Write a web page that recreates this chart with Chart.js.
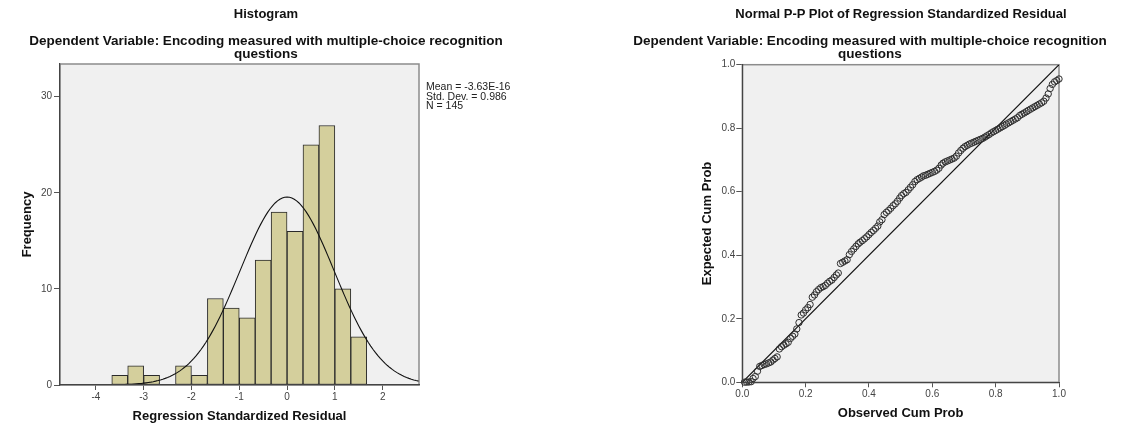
<!DOCTYPE html>
<html>
<head>
<meta charset="utf-8">
<script src="https://cdn.jsdelivr.net/npm/chart.js@4.4.0/dist/chart.umd.min.js"></script>
<style>
  body { margin: 0; background: #fff; }
  #wrap { position: relative; width: 1138px; height: 432px; font-family: 'Liberation Sans', Arial, sans-serif; color: #111; }
  .panel { position: absolute; top: 0; width: 569px; height: 432px; }
  .ttl { position: absolute; transform: translateX(-50%); font-weight: bold; font-size: 13px; line-height: 13px; text-align: center; white-space: nowrap; }
  .sub { font-size: 13.5px; }
  .stats { position: absolute; font-size: 10.5px; line-height: 9.5px; color: #222; white-space: nowrap; }
</style>
</head>
<body>
<div id="wrap">
  <div class="panel" style="left:0"><canvas id="hist" width="569" height="432"></canvas></div>
  <div class="panel" style="left:569px"><canvas id="pp" width="569" height="432"></canvas></div>

  <div class="ttl" style="left:266px; top:7px">Histogram</div>
  <div class="ttl sub" style="left:266px; top:34px">Dependent Variable: Encoding measured with multiple-choice recognition<br>questions</div>
  <div class="stats" style="left:426px; top:82px">Mean = -3.63E-16<br>Std. Dev. = 0.986<br>N = 145</div>

  <div class="ttl" style="left:901px; top:7px">Normal P-P Plot of Regression Standardized Residual</div>
  <div class="ttl sub" style="left:870px; top:34px">Dependent Variable: Encoding measured with multiple-choice recognition<br>questions</div>
</div>
<script>
// histogram of standardized residuals (bin width 1/3)
var binCenters = [-3.5, -3.167, -2.833, -2.5, -2.167, -1.833, -1.5, -1.167,
                  -0.833, -0.5, -0.167, 0.167, 0.5, 0.833, 1.167, 1.5];
var binCounts = [1, 2, 1, 0, 2, 1, 9, 8, 7, 13, 18, 16, 25, 27, 10, 5];
var xTicks = [-4, -3, -2, -1, 0, 1, 2];
var yTicks = [0, 10, 20, 30];

// summary shown next to the histogram
var residMean = -3.63e-16;
var residSd = 0.986;
var residN = 145;
var binWidth = 1 / 3;

// P-P plot: observed vs expected cumulative probability
var observedCum = [
  0.007, 0.014, 0.021, 0.028, 0.034, 0.041, 0.048, 0.055, 0.062, 0.069,
  0.076, 0.083, 0.090, 0.097, 0.103, 0.110, 0.117, 0.124, 0.131, 0.138,
  0.145, 0.152, 0.159, 0.166, 0.172, 0.179, 0.186, 0.193, 0.200, 0.207,
  0.214, 0.221, 0.228, 0.234, 0.241, 0.248, 0.255, 0.262, 0.269, 0.276,
  0.283, 0.290, 0.297, 0.303, 0.310, 0.317, 0.324, 0.331, 0.338, 0.345,
  0.352, 0.359, 0.366, 0.372, 0.379, 0.386, 0.393, 0.400, 0.407, 0.414,
  0.421, 0.428, 0.434, 0.441, 0.448, 0.455, 0.462, 0.469, 0.476, 0.483,
  0.490, 0.497, 0.503, 0.510, 0.517, 0.524, 0.531, 0.538, 0.545, 0.552,
  0.559, 0.566, 0.572, 0.579, 0.586, 0.593, 0.600, 0.607, 0.614, 0.621,
  0.628, 0.634, 0.641, 0.648, 0.655, 0.662, 0.669, 0.676, 0.683, 0.690,
  0.697, 0.703, 0.710, 0.717, 0.724, 0.731, 0.738, 0.745, 0.752, 0.759,
  0.766, 0.772, 0.779, 0.786, 0.793, 0.800, 0.807, 0.814, 0.821, 0.828,
  0.834, 0.841, 0.848, 0.855, 0.862, 0.869, 0.876, 0.883, 0.890, 0.897,
  0.903, 0.910, 0.917, 0.924, 0.931, 0.938, 0.945, 0.952, 0.959, 0.966,
  0.972, 0.979, 0.986, 0.993, 1.000
];
var expectedCum = [
  0.0003, 0.0006, 0.001, 0.002, 0.012, 0.018, 0.035, 0.050, 0.053, 0.056,
  0.058, 0.061, 0.064, 0.070, 0.075, 0.080, 0.105, 0.112, 0.117, 0.121,
  0.126, 0.138, 0.145, 0.152, 0.168, 0.188, 0.212, 0.218, 0.228, 0.235,
  0.245, 0.268, 0.275, 0.285, 0.292, 0.298, 0.301, 0.305, 0.312, 0.318,
  0.322, 0.330, 0.338, 0.344, 0.374, 0.378, 0.382, 0.386, 0.402, 0.412,
  0.420, 0.428, 0.436, 0.441, 0.446, 0.452, 0.458, 0.465, 0.472, 0.478,
  0.485, 0.492, 0.505, 0.512, 0.528, 0.535, 0.541, 0.548, 0.556, 0.562,
  0.570, 0.580, 0.588, 0.594, 0.598, 0.606, 0.614, 0.622, 0.632, 0.638,
  0.642, 0.646, 0.650, 0.652, 0.655, 0.658, 0.661, 0.664, 0.668, 0.674,
  0.684, 0.690, 0.694, 0.697, 0.700, 0.703, 0.706, 0.712, 0.722, 0.730,
  0.737, 0.742, 0.746, 0.750, 0.753, 0.756, 0.759, 0.762, 0.765, 0.768,
  0.772, 0.776, 0.780, 0.785, 0.789, 0.793, 0.797, 0.801, 0.805, 0.809,
  0.813, 0.817, 0.821, 0.825, 0.829, 0.833, 0.840, 0.844, 0.848, 0.852,
  0.856, 0.860, 0.864, 0.868, 0.872, 0.876, 0.880, 0.885, 0.895, 0.908,
  0.925, 0.938, 0.946, 0.950, 0.955
];
var refLine = [0, 1];
var probTicks = [0, 0.2, 0.4, 0.6, 0.8, 1.0];

var tickFont = { family: 'Liberation Sans', size: 10 };
var titleFont = { family: 'Liberation Sans', size: 13, weight: 'bold' };

// grey plot panel with a thin frame
var plotPanel = {
    id: 'plotPanel',
    beforeDraw: function (chart) {
        var a = chart.chartArea, ctx = chart.ctx;
        ctx.save();
        ctx.fillStyle = '#f0f0f0';
        ctx.fillRect(a.left, a.top, a.right - a.left, a.bottom - a.top);
        ctx.restore();
    },
    beforeDatasetsDraw: function (chart) {
        var a = chart.chartArea, ctx = chart.ctx;
        ctx.save();
        ctx.strokeStyle = '#8c8c8c';
        ctx.lineWidth = 1.5;
        ctx.strokeRect(a.left, a.top, a.right - a.left, a.bottom - a.top);
        ctx.restore();
    }
};

function axis(opts) {
    return Object.assign({
        grid: { drawOnChartArea: false, drawTicks: true, tickLength: 6, color: '#555' },
        border: { display: true, color: '#444', width: 1.2, z: 1 },
        ticks: { font: tickFont, color: '#444', padding: 2 }
    }, opts);
}

// normal curve scaled to counts per bin
var curvePoints = [];
for (var x = -4.75; x <= 2.77; x += 0.05) {
    var z = (x - residMean) / residSd;
    var dens = Math.exp(-0.5 * z * z) / (residSd * Math.sqrt(2 * Math.PI));
    curvePoints.push({ x: x, y: residN * binWidth * dens });
}

var histChart = new Chart(document.getElementById('hist'), {
    type: 'bar',
    data: {
        datasets: [
            {
                type: 'line',
                data: curvePoints,
                borderColor: '#111',
                borderWidth: 1.1,
                pointRadius: 0,
                tension: 0,
                order: 0
            },
            {
                type: 'bar',
                data: binCenters.map(function (c, i) { return { x: c, y: binCounts[i] }; }),
                backgroundColor: '#d4cf9c',
                borderColor: '#2a2a2a',
                borderWidth: 1,
                borderSkipped: false,
                barPercentage: 1,
                categoryPercentage: 1,
                order: 1
            }
        ]
    },
    options: {
        responsive: false,
        animation: false,
        layout: { padding: { top: 64, left: 20, right: 150, bottom: 7.7 } },
        plugins: { legend: { display: false }, tooltip: { enabled: false } },
        scales: {
            x: axis({
                type: 'linear',
                min: -4.75,
                max: 2.76,
                offset: false,
                grid: { drawOnChartArea: false, drawTicks: true, tickLength: 5, color: '#555', offset: false },
                ticks: { font: tickFont, color: '#444', padding: 1, stepSize: 1, includeBounds: false },
                afterBuildTicks: function (s) { s.ticks = xTicks.map(function (v) { return { value: v }; }); },
                title: { display: true, text: 'Regression Standardized Residual', font: titleFont, color: '#111', padding: 0 },
                afterFit: function (s) { s.height = 39.3; }
            }),
            y: axis({
                min: 0,
                max: 33.4,
                afterBuildTicks: function (s) { s.ticks = yTicks.map(function (v) { return { value: v }; }); },
                title: { display: true, text: 'Frequency', font: titleFont, color: '#111', padding: 0 },
                afterFit: function (s) { s.width = 40; }
            })
        }
    },
    plugins: [plotPanel]
});

var ppChart = new Chart(document.getElementById('pp'), {
    type: 'scatter',
    data: {
        datasets: [
            {
                data: observedCum.map(function (v, i) { return { x: v, y: expectedCum[i] }; }),
                pointRadius: 3.2,
                pointBackgroundColor: 'rgba(0,0,0,0)',
                pointBorderColor: '#2e2e2e',
                pointBorderWidth: 1,
                clip: false,
                order: 0
            },
            {
                data: refLine.map(function (v) { return { x: v, y: v }; }),
                showLine: true,
                borderColor: '#111',
                borderWidth: 1.1,
                pointRadius: 0,
                order: 1
            }
        ]
    },
    options: {
        responsive: false,
        animation: false,
        layout: { padding: { top: 64.7, left: 131, right: 79, bottom: 10.7 } },
        plugins: { legend: { display: false }, tooltip: { enabled: false } },
        scales: {
            x: axis({
                min: 0,
                max: 1,
                grid: { drawOnChartArea: false, drawTicks: true, tickLength: 5, color: '#555' },
                ticks: { font: tickFont, color: '#444', padding: 1, callback: function (v) { return v.toFixed(1); } },
                afterBuildTicks: function (s) { s.ticks = probTicks.map(function (v) { return { value: v }; }); },
                title: { display: true, text: 'Observed Cum Prob', font: titleFont, color: '#111', padding: 0 },
                afterFit: function (s) { s.height = 39; }
            }),
            y: axis({
                min: 0,
                max: 1,
                ticks: { font: tickFont, color: '#444', padding: 1, callback: function (v) { return v.toFixed(1); } },
                afterBuildTicks: function (s) { s.ticks = probTicks.map(function (v) { return { value: v }; }); },
                title: { display: true, text: 'Expected Cum Prob', font: titleFont, color: '#111', padding: 0 },
                afterFit: function (s) { s.width = 42.3; }
            })
        }
    },
    plugins: [plotPanel]
});
</script>
</body>
</html>
